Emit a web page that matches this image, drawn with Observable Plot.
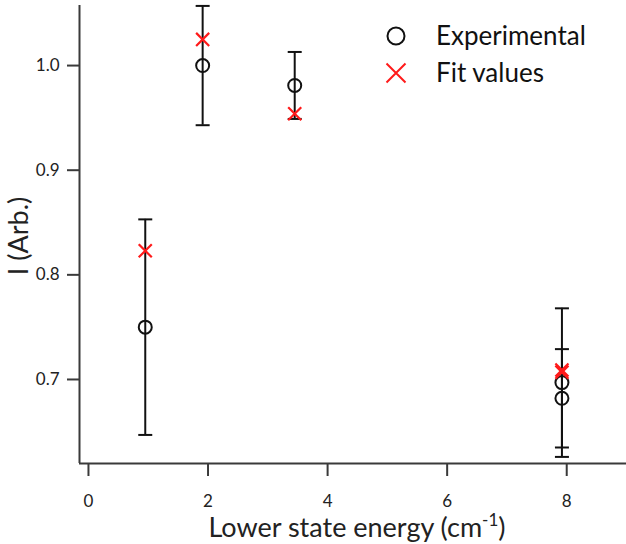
<!DOCTYPE html>
<html>
<head>
<meta charset="utf-8">
<script src="https://cdn.jsdelivr.net/npm/d3@7"></script>
<script src="https://cdn.jsdelivr.net/npm/@observablehq/plot@0.6"></script>
<style>
  html, body { margin: 0; padding: 0; background: #fff; }
  #chart { width: 626px; height: 544px; }
  svg { font-family: Lato, "Open Sans", sans-serif; }
</style>
</head>
<body>
<div id="chart"></div>
<script>
// ---- data ----
const energy       = [0.95, 1.91, 3.45, 7.92, 7.92];      // cm^-1
const experimental = [0.750, 1.000, 0.981, 0.697, 0.682];
const expError     = [0.103, 0.057, 0.032, 0.071, 0.047];
const fitValues    = [0.823, 1.025, 0.954, 0.709, 0.707];
const xTicks = [0, 2, 4, 6, 8];
const yTicks = [0.7, 0.8, 0.9, 1.0];
const xDomain = [-0.15, 9.0];
const yDomain = [0.6197, 1.0574];
const seriesNames = ["Experimental", "Fit values"];
const xTitle = "Lower state energy (cm";
const xTitleSup = "-1";
const yTitle = "I (Arb.)";

const rows = energy.map((e, i) => ({
  x: e, y: experimental[i], lo: experimental[i] - expError[i],
  hi: experimental[i] + expError[i], fit: fitValues[i]
}));

const cap = { draw(ctx, size) { const w = Math.sqrt(size / Math.PI); ctx.moveTo(-w, 0); ctx.lineTo(w, 0); } };
const axisColor = "#3a3a3a";

const plot = Plot.plot({
  width: 626, height: 544,
  marginLeft: 79, marginRight: 0, marginTop: 5, marginBottom: 81,
  style: { fontFamily: "Lato, 'Open Sans', sans-serif", fontSize: "17px", color: "#222", background: "#fff" },
  x: { domain: xDomain, label: null },
  y: { domain: yDomain, label: null },
  marks: [
    Plot.axisX({ ticks: xTicks, tickSize: 13, tickPadding: 18, fontSize: 17, strokeWidth: 2, stroke: axisColor, label: null, tickFormat: d => String(d) }),
    Plot.axisY({ ticks: yTicks, tickSize: 12, tickPadding: 8, fontSize: 17, strokeWidth: 2, stroke: axisColor, label: null, tickFormat: d3.format(".1f") }),
    Plot.ruleX([xDomain[0]], { stroke: axisColor, strokeWidth: 2 }),
    Plot.ruleY([yDomain[0]], { stroke: axisColor, strokeWidth: 2 }),
    Plot.ruleX(rows, { x: "x", y1: "lo", y2: "hi", stroke: "#111", strokeWidth: 2 }),
    Plot.dot(rows, { x: "x", y: "lo", symbol: cap, r: 7, stroke: "#111", strokeWidth: 2 }),
    Plot.dot(rows, { x: "x", y: "hi", symbol: cap, r: 7, stroke: "#111", strokeWidth: 2 }),
    Plot.dot(rows, { x: "x", y: "y", r: 6.5, stroke: "#111", strokeWidth: 2, fill: "none" }),
    Plot.dot(rows, { x: "x", y: "fit", symbol: "times", r: 6, stroke: "#ff1a1a", strokeWidth: 2.2 })
  ]
});
document.getElementById("chart").appendChild(plot);

const svg = d3.select(plot);
svg.selectAll("text")
  .style("font-size", "17px").style("font-family", "Lato, 'Open Sans', sans-serif")
  .attr("fill", "#222");

// titles and legend
const xt = svg.append("text")
  .attr("x", 357).attr("y", 537)
  .attr("text-anchor", "middle")
  .attr("font-size", 27).attr("fill", "#222");
xt.append("tspan").text(xTitle);
xt.append("tspan").attr("dy", -11).attr("font-size", 17).text(xTitleSup);
xt.append("tspan").attr("dy", 11).attr("font-size", 27).text(")");

svg.append("text")
  .attr("transform", "translate(28,236) rotate(-90)")
  .attr("text-anchor", "middle")
  .attr("font-size", 27).attr("fill", "#222")
  .text(yTitle);

const lg = svg.append("g").attr("text-anchor", "start");
lg.append("circle").attr("cx", 396).attr("cy", 36).attr("r", 8.5)
  .attr("fill", "none").attr("stroke", "#111").attr("stroke-width", 2);
lg.append("path").attr("d", "M386.5,63.5L405.5,82.5M405.5,63.5L386.5,82.5")
  .attr("stroke", "#ff1a1a").attr("stroke-width", 2);
lg.selectAll("text.lgt").data(seriesNames).join("text")
  .attr("class", "lgt")
  .attr("x", 436).attr("y", (d, i) => 45 + i * 37)
  .attr("text-anchor", "start")
  .attr("font-size", 26).attr("fill", "#111")
  .text(d => d);
</script>
</body>
</html>
